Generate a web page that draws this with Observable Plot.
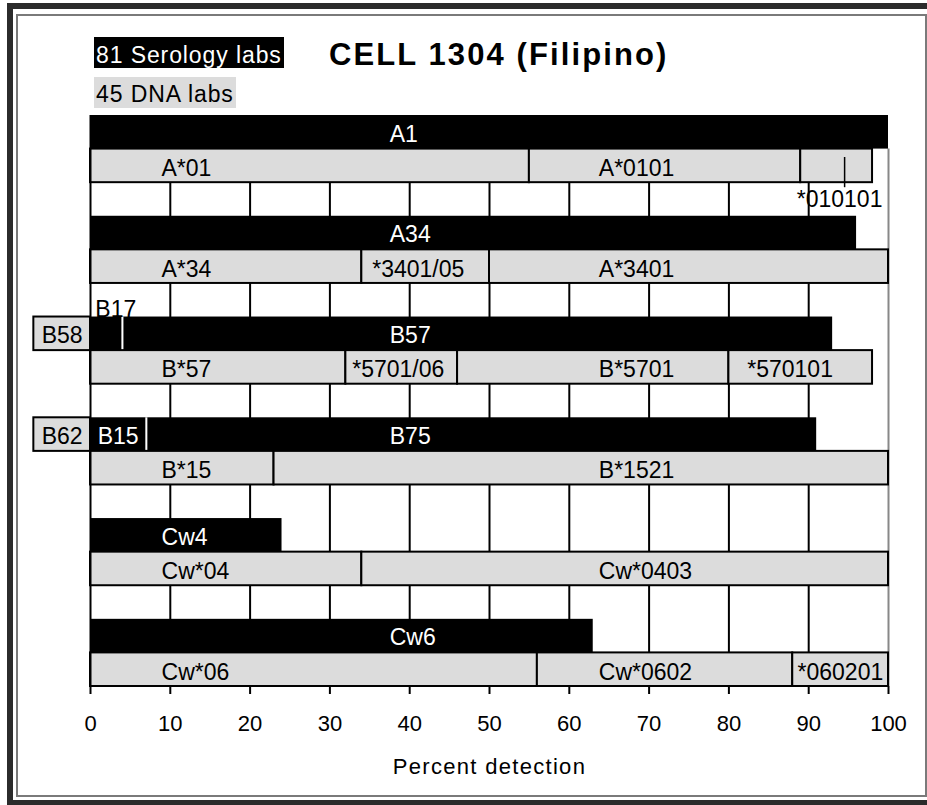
<!DOCTYPE html>
<html>
<head>
<meta charset="utf-8">
<script src="https://cdn.jsdelivr.net/npm/d3@7"></script>
<script src="https://cdn.jsdelivr.net/npm/@observablehq/plot@0.6"></script>
<style>
  html, body { margin: 0; padding: 0; background: #fff; }
  body { width: 927px; height: 805px; overflow: hidden; position: relative;
         font-family: "Liberation Sans", Arial, sans-serif; }
  #chart { position: absolute; left: 0; top: 0; }
  .frame-outer { position: absolute; left: 7px; top: 3px; width: 940px; height: 803px;
                 box-sizing: border-box; border: 6px solid #2b2b2b; pointer-events: none; }
  .frame-inner { position: absolute; left: 16px; top: 14px; width: 911px; height: 783px;
                 box-sizing: border-box; border: 2px solid #7a7a7a; pointer-events: none; }
  .legend { position: absolute; left: 94px; font-size: 23px; letter-spacing: 0.9px;
            padding: 0 2px; white-space: nowrap; }
  #sero { top: 37px; height: 31px; line-height: 36px; background: #000; color: #fff; }
  #dna { top: 77px; height: 31px; line-height: 34px; background: #dcdcdc; color: #000; }
  #title { position: absolute; left: 329px; top: 39px; font-size: 31px; line-height: 31px;
           font-weight: bold; letter-spacing: 2.1px; white-space: nowrap; color: #000; }
</style>
</head>
<body>
<div id="chart"></div>
<div class="frame-outer"></div>
<div class="frame-inner"></div>
<div id="sero" class="legend">81 Serology labs</div>
<div id="dna" class="legend">45 DNA labs</div>
<div id="title">CELL 1304 (Filipino)</div>
<script>
// ---- data ----
const loci = ["A1", "A34", "B57", "B75", "Cw4", "Cw6"];

// serology (black) segments, percent of labs
const seroLabels = [["A1"], ["A34"], ["B17", "B57"], ["B15", "B75"], ["Cw4"], ["Cw6"]];
const seroPct    = [[100],  [96],    [4, 89],        [7, 84],        [24],    [63]];
const seroLabelX = [[37.5], [37.5],  [0.6, 37.5],    [0.9, 37.5],    [8.9],   [37.5]];

// serology assignments drawn to the left of zero
const splitLabels = ["", "", "B58", "B62", "", ""];
const splitPct    = [0, 0, 7.1, 7.1, 0, 0];

// DNA (grey) segments, percent of labs
const dnaLabels = [
  ["A*01", "A*0101", "*010101"],
  ["A*34", "*3401/05", "A*3401"],
  ["B*57", "*5701/06", "B*5701", "*570101"],
  ["B*15", "B*1521"],
  ["Cw*04", "Cw*0403"],
  ["Cw*06", "Cw*0602", "*060201"]
];
const dnaPct = [
  [55, 34, 9],
  [34, 16, 50],
  [32, 14, 34, 18],
  [23, 77],
  [34, 66],
  [56, 32, 12]
];
const dnaLabelX = [
  [8.9, 63.7, 88.5],
  [8.9, 35.3, 63.7],
  [8.9, 32.8, 63.7, 82.3],
  [8.9, 63.7],
  [8.9, 63.7],
  [8.9, 63.7, 88.6]
];
const dnaLeaderX = [[null, null, 94.5], [], [], [], [], []];

const xTicks = [0, 10, 20, 30, 40, 50, 60, 70, 80, 90, 100];

// ---- tables ----
const sero = [];
loci.forEach((_, i) => {
  let x = 0;
  seroPct[i].forEach((p, j) => {
    sero.push({row: i, label: seroLabels[i][j], x1: x, x2: x + p, lx: seroLabelX[i][j]});
    x += p;
  });
});
const split = splitLabels.map((l, i) => ({row: i, label: l, x1: -splitPct[i], x2: 0})).filter(d => d.label);
const dna = [];
loci.forEach((_, i) => {
  let x = 0;
  dnaPct[i].forEach((p, j) => {
    dna.push({row: i, label: dnaLabels[i][j], x1: x, x2: x + p, lx: dnaLabelX[i][j],
              leader: dnaLeaderX[i][j] ?? null});
    x += p;
  });
});
const seroIn = sero.filter(d => d.x2 - d.x1 >= 5);
const seroAbove = sero.filter(d => d.x2 - d.x1 < 5);
const dnaIn = dna.filter(d => d.x2 - d.x1 >= 10);
const dnaBelow = dna.filter(d => d.x2 - d.x1 < 10);

const FONT = "Liberation Sans, Arial, Helvetica, sans-serif";

const chart = Plot.plot({
  width: 927,
  height: 805,
  marginLeft: 90,
  marginRight: 39,
  marginTop: 115,
  marginBottom: 119,
  x: {domain: [0, 100]},
  y: {domain: [0, 17], reverse: true, axis: null},
  style: {background: "transparent", fontFamily: FONT, fontSize: "22px", color: "black"},
  marks: [
    Plot.ruleX(xTicks.filter(t => t > 0 && t < 100), {y1: 0, y2: 17, stroke: "black", strokeWidth: 2}),
    Plot.ruleX([100], {y1: 1, y2: 17, stroke: "#888", strokeWidth: 2}),
    Plot.rect(sero, {x1: "x1", x2: "x2", y1: d => d.row * 3, y2: d => d.row * 3 + 1, fill: "black"}),
    Plot.ruleX(sero.filter(d => d.x1 > 0), {x: "x1", y1: d => d.row * 3, y2: d => d.row * 3 + 1, stroke: "white", strokeWidth: 2}),
    Plot.rect(split, {x1: "x1", x2: "x2", y1: d => d.row * 3, y2: d => d.row * 3 + 1, fill: "#dcdcdc", stroke: "black", strokeWidth: 2}),
    Plot.rect(dna, {x1: "x1", x2: "x2", y1: d => d.row * 3 + 1, y2: d => d.row * 3 + 2, fill: "#dcdcdc", stroke: "black", strokeWidth: 2}),
    Plot.ruleX([0], {y1: 0, y2: 17, stroke: "black", strokeWidth: 2}),
    Plot.ruleX(dna.filter(d => d.leader != null), {x: "leader", y1: d => d.row * 3 + 1.25, y2: d => d.row * 3 + 2.15, stroke: "black", strokeWidth: 1.5}),
    // labels
    Plot.text(seroIn, {x: "lx", y: d => d.row * 3 + 0.5, text: "label", textAnchor: "start", lineAnchor: "middle", dy: 2, fill: "white", fontSize: 23, fontFamily: FONT}),
    Plot.text(seroAbove, {x: "lx", y: d => d.row * 3, text: "label", textAnchor: "start", lineAnchor: "bottom", fill: "black", fontSize: 23, fontFamily: FONT}),
    Plot.text(split, {x: d => (d.x1 + d.x2) / 2, y: d => d.row * 3 + 0.5, text: "label", lineAnchor: "middle", dy: 2, fill: "black", fontSize: 23, fontFamily: FONT}),
    Plot.text(dnaIn, {x: "lx", y: d => d.row * 3 + 1.5, text: "label", textAnchor: "start", lineAnchor: "middle", dy: 2.5, fill: "black", fontSize: 23, fontFamily: FONT}),
    Plot.text(dnaBelow, {x: "lx", y: d => d.row * 3 + 2.5, text: "label", textAnchor: "start", lineAnchor: "middle", fill: "black", fontSize: 23, fontFamily: FONT}),
    Plot.axisX({ticks: xTicks, tickSize: 8, tickPadding: 21, strokeWidth: 2, label: null, fontSize: 22}),
    Plot.text(["Percent detection"], {frameAnchor: "bottom", dy: 80, lineAnchor: "middle", fontSize: 22, fontFamily: FONT, fill: "black"})
  ]
});
d3.select(chart).selectAll("text")
  .filter(function () { return this.textContent === "Percent detection"; })
  .style("letter-spacing", "1.3px");
document.getElementById("chart").appendChild(chart);
</script>
</body>
</html>
